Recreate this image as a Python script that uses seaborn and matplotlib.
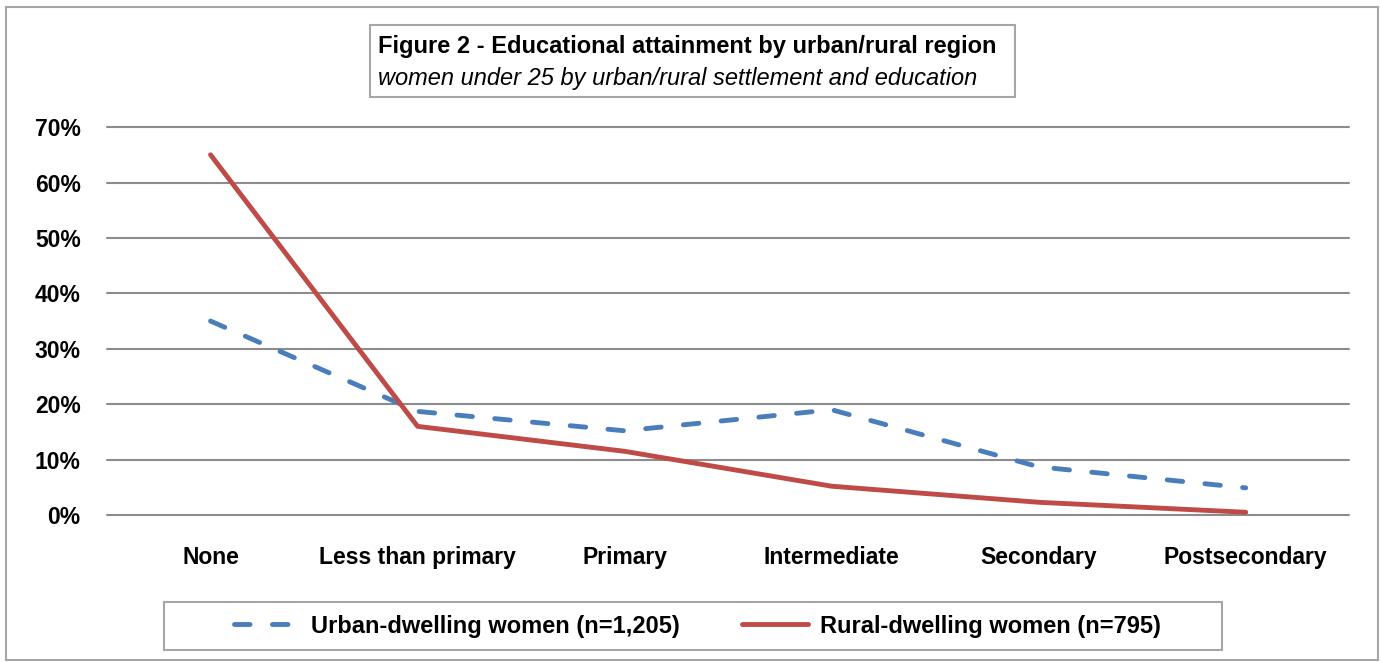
import matplotlib
matplotlib.use("Agg")
import matplotlib.pyplot as plt
import matplotlib.patches as patches
from matplotlib.lines import Line2D
from matplotlib.ticker import PercentFormatter
import pandas as pd
import seaborn as sns

categories = ["None", "Less than primary", "Primary", "Intermediate", "Secondary", "Postsecondary"]
urban = [0.35, 0.187, 0.152, 0.19, 0.087, 0.049]
rural = [0.65, 0.16, 0.115, 0.052, 0.023, 0.005]
series_names = ["Urban-dwelling women (n=1,205)", "Rural-dwelling women (n=795)"]
title = "Figure 2 - Educational attainment by urban/rural region"
subtitle = "women under 25 by urban/rural settlement and education"

BLUE = "#4a7ebb"
RED = "#be4b48"
GRID = "#8c8c8c"
DASH = (3.2, 4.6)


def main():
    df = pd.DataFrame({
        "category": categories * 2,
        "value": urban + rural,
        "series": [series_names[0]] * len(categories) + [series_names[1]] * len(categories),
    })
    df["x"] = list(range(len(categories))) * 2

    sns.set_style("white")
    plt.rcParams["font.family"] = ["Liberation Sans", "DejaVu Sans"]
    plt.rcParams["text.color"] = "black"
    plt.rcParams["xtick.color"] = "black"
    plt.rcParams["ytick.color"] = "black"

    fig = plt.figure(figsize=(13.81, 6.62), dpi=100)
    ax = fig.add_axes([0.0775, 0.222, 0.8995, 0.586])

    sns.lineplot(data=df, x="x", y="value", hue="series", style="series",
                 palette=[BLUE, RED], dashes=[DASH, ""], linewidth=3.5,
                 legend=False, ax=ax)
    for ln in ax.lines:
        ln.set_dash_capstyle("round")
        ln.set_solid_capstyle("round")
        ln.set_solid_joinstyle("round")
        ln.set_dash_joinstyle("round")

    ax.set_xlim(-0.5, len(categories) - 0.5)
    ax.set_ylim(0, 0.7)
    ax.set_yticks([i / 10 for i in range(8)])
    ax.yaxis.set_major_formatter(PercentFormatter(1.0, decimals=0))
    ax.set_xticks(range(len(categories)))
    ax.set_xticklabels(categories)
    ax.grid(axis="y", color=GRID, linewidth=1.5)
    for gl in ax.get_ygridlines():
        gl.set_clip_on(False)
    ax.set_axisbelow(True)
    for s in ax.spines.values():
        s.set_visible(False)
    ax.tick_params(length=0, labelsize=16.5, labelcolor="black")
    ax.tick_params(axis="y", pad=19)
    ax.tick_params(axis="x", pad=22)
    for t in ax.get_xticklabels() + ax.get_yticklabels():
        t.set_fontweight("bold")
    ax.set_xlabel("")
    ax.set_ylabel("")

    # outer frame
    fig.add_artist(patches.Rectangle((6 / 1381, 0.003), 1372 / 1381, 0.987, transform=fig.transFigure,
                                     fill=False, edgecolor="#a6a6a6", linewidth=1.5))

    # title box
    fig.add_artist(patches.Rectangle((370 / 1381, 1 - 97 / 662), 645 / 1381, 72 / 662,
                                     transform=fig.transFigure, facecolor="white",
                                     edgecolor="#a6a6a6", linewidth=1.5))
    fig.text(378 / 1381, 1 - 46 / 662, title, fontsize=17, fontweight="bold", va="center")
    fig.text(378 / 1381, 1 - 78 / 662, subtitle, fontsize=17, style="italic", va="center")

    # legend box
    fig.add_artist(patches.Rectangle((164 / 1381, 1 - 650 / 662), 1058 / 1381, 48 / 662,
                                     transform=fig.transFigure, facecolor="white",
                                     edgecolor="#a6a6a6", linewidth=1.5))
    handles = [
        Line2D([], [], color=BLUE, linewidth=3.5, dashes=DASH, dash_capstyle="round"),
        Line2D([], [], color=RED, linewidth=3.5, solid_capstyle="round"),
    ]
    fig.legend(handles, series_names, loc="center", ncol=2,
               bbox_to_anchor=(697 / 1381, 1 - 626 / 662), frameon=False,
               handlelength=2.8, columnspacing=2.6, handletextpad=0.5,
               prop={"size": 17, "weight": "bold"})

    fig.savefig("out.png", dpi=100)


if __name__ == "__main__":
    main()
